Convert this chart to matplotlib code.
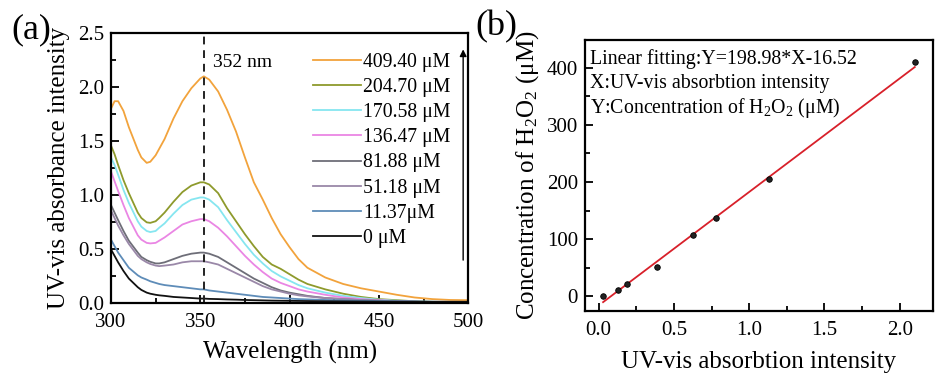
import matplotlib
matplotlib.use("Agg")
import matplotlib.pyplot as plt
from matplotlib.ticker import MultipleLocator, FormatStrFormatter

plt.rcParams['font.family'] = ['Liberation Serif', 'DejaVu Serif']
plt.rcParams['mathtext.fontset'] = 'custom'
plt.rcParams['mathtext.rm'] = 'Liberation Serif'
plt.rcParams['mathtext.it'] = 'Liberation Serif:italic'

# ---------------- data: panel (a) ----------------
wavelength = [300, 302, 304, 307, 310, 315, 317, 320, 322, 325, 327, 330, 335, 340, 345, 350, 352, 355,
              360, 365, 370, 375, 380, 385, 390, 395, 400, 405, 410, 420, 430, 440, 450,
              460, 470, 480, 490, 500]

abs_409 = [1.80, 1.87, 1.87, 1.78, 1.63, 1.42, 1.35, 1.30, 1.31, 1.37, 1.43, 1.52, 1.71, 1.87, 1.99, 2.08, 2.10, 2.07,
           1.96, 1.79, 1.59, 1.35, 1.12, 0.96, 0.79, 0.64, 0.52, 0.41, 0.33, 0.24, 0.18, 0.14, 0.11,
           0.08, 0.055, 0.04, 0.032, 0.03]
abs_204 = [1.46, 1.38, 1.28, 1.14, 1.02, 0.84, 0.79, 0.75, 0.745, 0.76, 0.79, 0.84, 0.94, 1.03, 1.09, 1.12, 1.12, 1.10,
           1.02, 0.88, 0.76, 0.64, 0.53, 0.43, 0.36, 0.32, 0.27, 0.22, 0.18, 0.13, 0.09, 0.06, 0.04,
           0.03, 0.02, 0.015, 0.012, 0.01]
abs_170 = [1.35, 1.28, 1.19, 1.05, 0.93, 0.76, 0.71, 0.67, 0.66, 0.67, 0.70, 0.74, 0.83, 0.91, 0.96, 0.98, 0.98, 0.96,
           0.89, 0.77, 0.66, 0.55, 0.45, 0.37, 0.30, 0.25, 0.21, 0.17, 0.14, 0.10, 0.07, 0.05, 0.035,
           0.025, 0.018, 0.014, 0.012, 0.01]
abs_136 = [1.22, 1.13, 1.04, 0.91, 0.79, 0.63, 0.59, 0.56, 0.555, 0.56, 0.58, 0.61, 0.67, 0.73, 0.76, 0.78, 0.78, 0.76,
           0.70, 0.62, 0.53, 0.44, 0.36, 0.29, 0.23, 0.19, 0.16, 0.13, 0.11, 0.08, 0.055, 0.04, 0.03,
           0.022, 0.016, 0.013, 0.011, 0.01]
abs_81 = [0.91, 0.84, 0.77, 0.67, 0.58, 0.47, 0.43, 0.40, 0.385, 0.37, 0.37, 0.38, 0.41, 0.44, 0.46, 0.47, 0.47, 0.46,
          0.43, 0.38, 0.33, 0.28, 0.23, 0.19, 0.15, 0.12, 0.10, 0.085, 0.07, 0.05, 0.04, 0.03, 0.025,
          0.02, 0.015, 0.012, 0.01, 0.01]
abs_51 = [0.86, 0.79, 0.72, 0.63, 0.55, 0.44, 0.41, 0.38, 0.365, 0.35, 0.345, 0.35, 0.36, 0.38, 0.39, 0.39, 0.39, 0.38,
          0.36, 0.32, 0.28, 0.24, 0.20, 0.16, 0.13, 0.11, 0.09, 0.075, 0.065, 0.05, 0.04, 0.032, 0.026,
          0.02, 0.016, 0.013, 0.011, 0.01]
abs_11 = [0.59, 0.53, 0.47, 0.40, 0.33, 0.26, 0.24, 0.22, 0.205, 0.19, 0.18, 0.17, 0.16, 0.15, 0.14, 0.13, 0.13, 0.12,
          0.11, 0.10, 0.09, 0.08, 0.07, 0.06, 0.055, 0.05, 0.045, 0.04, 0.037, 0.032, 0.028, 0.025, 0.022,
          0.02, 0.018, 0.016, 0.015, 0.015]
abs_0 = [0.50, 0.44, 0.38, 0.30, 0.23, 0.15, 0.125, 0.10, 0.09, 0.08, 0.075, 0.07, 0.06, 0.055, 0.05, 0.045, 0.045, 0.042,
         0.04, 0.037, 0.035, 0.032, 0.03, 0.028, 0.026, 0.025, 0.024, 0.023, 0.022, 0.02, 0.019, 0.018, 0.017,
         0.016, 0.016, 0.015, 0.015, 0.015]

series_labels = ['409.40 μM', '204.70 μM', '170.58 μM', '136.47 μM',
                 '81.88 μM', '51.18 μM', '11.37μM', '0 μM']
series_values = [abs_409, abs_204, abs_170, abs_136, abs_81, abs_51, abs_11, abs_0]
series_colors = ['#F2A33C', '#8E9A2C', '#86E6F0', '#EA86E4',
                 '#6E6E78', '#9A88A8', '#5E8CB8', '#111111']

# ---------------- data: panel (b) ----------------
absorbance_pts = [0.03, 0.13, 0.19, 0.39, 0.63, 0.78, 1.13, 2.10]
concentration_pts = [0, 11.37, 22.0, 51.18, 107.0, 136.47, 204.70, 409.40]
fit_slope = 198.98
fit_intercept = -16.52

fig = plt.figure(figsize=(9.35, 3.76), dpi=100)

# ---------- panel (a) ----------
ax1 = fig.add_axes([0.1187, 0.193, 0.382, 0.719])
for vals, lab, col in zip(series_values, series_labels, series_colors):
    ax1.plot(wavelength, vals, color=col, lw=1.3, label=lab)
ax1.axvline(352, color='#222222', ls=(0, (4, 3)), lw=1.4)
ax1.text(357, 2.23, '352 nm', fontsize=14, va='center', ha='left')
ax1.set_xlim(300, 500)
ax1.set_ylim(0, 2.5)
ax1.xaxis.set_major_locator(MultipleLocator(50))
ax1.xaxis.set_minor_locator(MultipleLocator(25))
ax1.yaxis.set_major_locator(MultipleLocator(0.5))
ax1.yaxis.set_minor_locator(MultipleLocator(0.25))
ax1.yaxis.set_major_formatter(FormatStrFormatter('%.1f'))
ax1.set_xlabel('Wavelength (nm)', fontsize=18, labelpad=6)
ax1.set_ylabel('UV-vis absorbance intensity', fontsize=18, labelpad=6)
leg = ax1.legend(loc='upper right', bbox_to_anchor=(0.985, 0.97), frameon=False, fontsize=14.2,
                 handlelength=2.4, handletextpad=0.15, labelspacing=0.31, borderaxespad=0.2)
ax1.annotate('', xy=(0.986, 0.95), xytext=(0.986, 0.15), xycoords='axes fraction',
             arrowprops=dict(arrowstyle='-|>', color='black', lw=1.0, mutation_scale=10))
fig.text(0.012, 0.92, '(a)', fontsize=26, ha='left', va='center')

# ---------- panel (b) ----------
ax2 = fig.add_axes([0.6257, 0.173, 0.372, 0.721])
fit_x = [min(absorbance_pts), max(absorbance_pts)]
fit_y = [fit_slope * x + fit_intercept for x in fit_x]
ax2.plot(fit_x, fit_y, color='#D8202A', lw=1.3, zorder=2)
ax2.scatter(absorbance_pts, concentration_pts, s=16, color='#222222', edgecolor='#000000',
            linewidth=0.6, zorder=3)
ax2.set_xlim(-0.09, 2.22)
ax2.set_ylim(-26, 449)
ax2.xaxis.set_major_locator(MultipleLocator(0.5))
ax2.xaxis.set_minor_locator(MultipleLocator(0.25))
ax2.yaxis.set_major_locator(MultipleLocator(100))
ax2.yaxis.set_minor_locator(MultipleLocator(50))
ax2.xaxis.set_major_formatter(FormatStrFormatter('%.1f'))
ax2.set_xlabel('UV-vis absorbtion intensity', fontsize=18, labelpad=8)
ax2.set_ylabel(r'Concentration of H$_2$O$_2$ (μM)', fontsize=18, labelpad=4)
ax2.text(0.014, 0.93, 'Linear fitting:Y=198.98*X-16.52', transform=ax2.transAxes,
         fontsize=14.3, va='center', ha='left')
ax2.text(0.014, 0.84, 'X:UV-vis absorbtion intensity', transform=ax2.transAxes,
         fontsize=14.3, va='center', ha='left')
ax2.text(0.014, 0.75, r'Y:Concentration of H$_2$O$_2$ (μM)', transform=ax2.transAxes,
         fontsize=14.3, va='center', ha='left')
fig.text(0.508, 0.93, '(b)', fontsize=26, ha='left', va='center')

for ax in (ax1, ax2):
    for sp in ax.spines.values():
        sp.set_linewidth(1.6)
    ax.tick_params(which='both', direction='in', top=False, right=False, labelsize=15, width=1.3)
    ax.tick_params(which='major', length=6)
    ax.tick_params(which='minor', length=3.5)
    ax.tick_params(axis='x', which='major', pad=7)
    ax.tick_params(axis='y', which='major', pad=5)

fig.savefig('out.png', dpi=100)
